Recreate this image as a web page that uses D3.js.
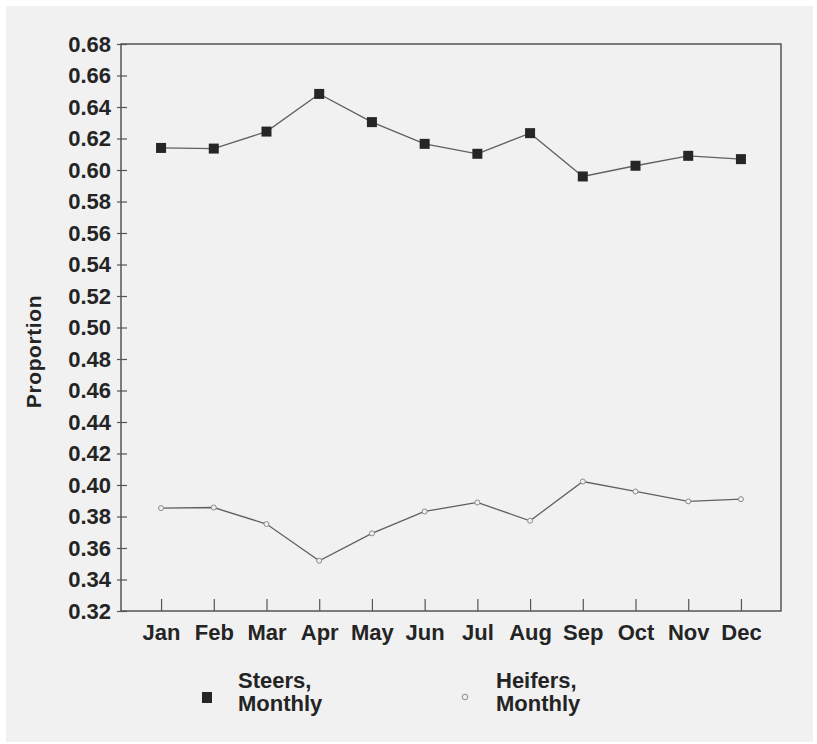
<!DOCTYPE html>
<html>
<head>
<meta charset="utf-8">
<script src="https://cdn.jsdelivr.net/npm/d3@7"></script>
<style>
  html, body { margin: 0; padding: 0; background: #ffffff; }
  svg { display: block; }
</style>
</head>
<body>
<script>
// Monthly proportions of steers and heifers
const months = ["Jan", "Feb", "Mar", "Apr", "May", "Jun", "Jul", "Aug", "Sep", "Oct", "Nov", "Dec"];
const steers = [0.614, 0.6136, 0.6244, 0.6483, 0.6304, 0.6166, 0.6103, 0.6234, 0.5959, 0.6027, 0.609, 0.6069];
const heifers = [0.3853, 0.3857, 0.3752, 0.3519, 0.3693, 0.3832, 0.3889, 0.3773, 0.4022, 0.3959, 0.3896, 0.3910];
const yTicks = [0.32, 0.34, 0.36, 0.38, 0.40, 0.42, 0.44, 0.46, 0.48, 0.50, 0.52, 0.54,
                0.56, 0.58, 0.60, 0.62, 0.64, 0.66, 0.68];
const legendLabels = [["Steers,", "Monthly"], ["Heifers,", "Monthly"]];

const W = 817, H = 744;
const plot = { left: 121, right: 781, top: 44, bottom: 611 };

const svg = d3.select("body").append("svg").attr("width", W).attr("height", H);
const font = "'Liberation Sans', Arial, sans-serif";
const ink = "#242424";

// paper
svg.append("rect").attr("x", 6).attr("y", 6).attr("width", W - 10).attr("height", H - 8)
  .attr("fill", "#f1f1f1");

const x = d3.scalePoint().domain(months).range([plot.left, plot.right]).padding(0.76);
const y = d3.scaleLinear().domain([0.32, 0.68]).range([plot.bottom, plot.top]);

// frame
svg.append("rect")
  .attr("x", plot.left).attr("y", plot.top)
  .attr("width", plot.right - plot.left).attr("height", plot.bottom - plot.top)
  .attr("fill", "none").attr("stroke", "#4a4a4a").attr("stroke-width", 1.4);

// y axis
const yAxis = svg.append("g").attr("transform", `translate(${plot.left},0)`)
  .call(d3.axisLeft(y).tickValues(yTicks).tickFormat(d3.format(".2f")).tickSize(5).tickPadding(6));
yAxis.select(".domain").remove();
yAxis.selectAll(".tick line").attr("x2", 6).attr("x1", -4).attr("stroke", "#555").attr("stroke-width", 1.2);
yAxis.selectAll(".tick text")
  .attr("font-family", font).attr("font-weight", "bold").attr("font-size", 22)
  .attr("fill", ink).attr("x", -10);

// x axis
const xAxis = svg.append("g").attr("transform", `translate(0,${plot.bottom})`)
  .call(d3.axisBottom(x).tickSize(0).tickPadding(14));
xAxis.select(".domain").remove();
xAxis.selectAll(".tick line").remove();
xAxis.selectAll(".tick").append("line")
  .attr("y1", 0).attr("y2", -12).attr("stroke", "#555").attr("stroke-width", 1.2);
xAxis.selectAll(".tick text")
  .attr("font-family", font).attr("font-weight", "bold").attr("font-size", 22)
  .attr("fill", ink).attr("dy", "0.68em");

// axis title
svg.append("text")
  .attr("transform", `translate(41,${(plot.top + plot.bottom) / 2 + 24}) rotate(-90)`)
  .attr("text-anchor", "middle")
  .attr("font-family", font).attr("font-weight", "bold").attr("font-size", 21)
  .attr("letter-spacing", 0.6)
  .attr("fill", ink)
  .text("Proportion");

const line = d3.line().x((d, i) => x(months[i])).y(d => y(d));

// steers series
svg.append("path").datum(steers).attr("d", line)
  .attr("fill", "none").attr("stroke", "#606060").attr("stroke-width", 1.3);
svg.selectAll(".steer").data(steers).enter().append("rect")
  .attr("x", (d, i) => x(months[i]) - 5).attr("y", d => y(d) - 5)
  .attr("width", 10).attr("height", 10).attr("fill", "#262626");

// heifers series
svg.append("path").datum(heifers).attr("d", line)
  .attr("fill", "none").attr("stroke", "#606060").attr("stroke-width", 1.3);
svg.selectAll(".heifer").data(heifers).enter().append("circle")
  .attr("cx", (d, i) => x(months[i])).attr("cy", d => y(d)).attr("r", 2.5)
  .attr("fill", "#f1f1f1").attr("stroke", "#8a8a8a").attr("stroke-width", 1);

// legend
const legend = svg.append("g");
const lx = [207, 465];
legendLabels.forEach((lab, i) => {
  if (i === 0) {
    legend.append("rect").attr("x", lx[i] - 5).attr("y", 692).attr("width", 10).attr("height", 11)
      .attr("fill", "#262626");
  } else {
    legend.append("circle").attr("cx", lx[i]).attr("cy", 697).attr("r", 2.8)
      .attr("fill", "none").attr("stroke", "#8a8a8a").attr("stroke-width", 1);
  }
  const t = legend.append("text").attr("font-family", font).attr("font-weight", "bold")
    .attr("font-size", 22).attr("fill", ink);
  t.append("tspan").attr("x", lx[i] + 31).attr("y", 688).text(lab[0]);
  t.append("tspan").attr("x", lx[i] + 31).attr("y", 711).text(lab[1]);
});
</script>
</body>
</html>
